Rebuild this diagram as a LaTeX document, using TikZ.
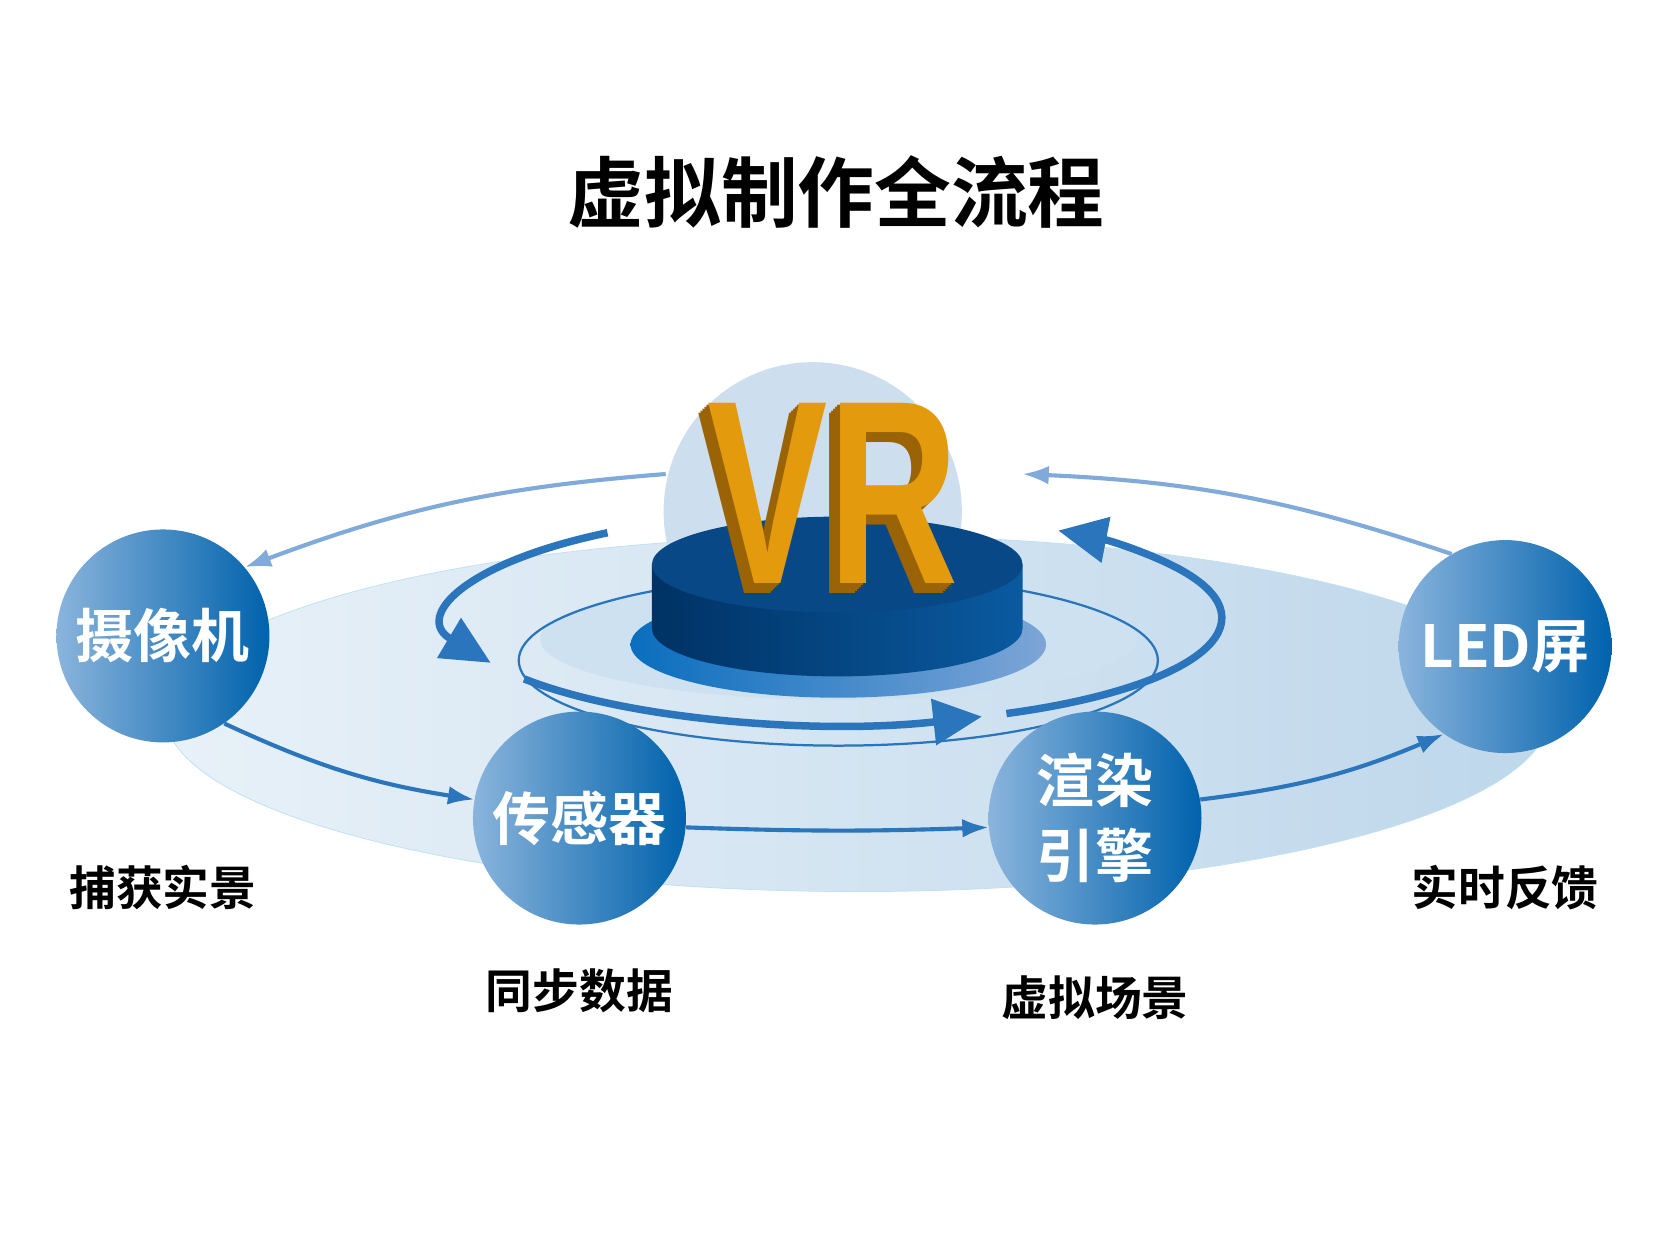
\documentclass[tikz,border=0pt]{standalone}
\usepackage{fontspec}
\newfontfamily\cjk[BoldFont={Noto Sans CJK SC Bold}]{Noto Sans CJK SC}
\setmainfont{Liberation Sans}
\usetikzlibrary{arrows.meta}
\definecolor{arr}{HTML}{2A75BB}
\definecolor{arrl}{HTML}{7FAADA}
\definecolor{vrf}{HTML}{E39A0C}
\definecolor{vrs}{HTML}{9A6406}
\definecolor{bl}{HTML}{8AB4DC}\definecolor{bd}{HTML}{0062AC}
\definecolor{discl}{HTML}{E8F1F8}\definecolor{discr}{HTML}{BED7EB}\definecolor{disce}{HTML}{BEE1F0}
\definecolor{sph}{HTML}{CDDEEE}\definecolor{inn}{HTML}{CDE1F0}
\definecolor{ringl}{HTML}{0A6EBE}\definecolor{ringr}{HTML}{7DA5D7}
\definecolor{cyl}{HTML}{003264}\definecolor{cyr}{HTML}{0A5AA0}\definecolor{cyt}{HTML}{084887}
\tikzset{
 ball/.style={circle,minimum size=4cm,inner sep=0,left color=bl,right color=bd,text=white,font=\cjk\bfseries\fontsize{31}{34}\selectfont},
 lab/.style={font=\cjk\bfseries\fontsize{25}{28}\selectfont},
 flow/.style={arr,line width=2.2,-{Latex[length=14,width=10]}},
 big/.style={arr,line width=4,-{Triangle[length=26,width=24]}},
 vrtext/.style={font=\bfseries\fontsize{112}{112}\selectfont,xscale=0.86,yscale=1.25,inner sep=0}
}
\begin{document}
\begin{tikzpicture}[x=0.02cm,y=-0.02cm]
\useasboundingbox (0,0) rectangle (1565,1174);
\node[font=\cjk\bfseries\fontsize{41}{44}\selectfont] (title) at (785,180) {虚拟制作全流程};
\shade[left color=discl,right color=discr,draw=disce] (805,670) ellipse [x radius=650,y radius=167];
\fill[sph] (763,480) circle [radius=140];
\fill[inn] (787,600) ellipse [x radius=280,y radius=57];
\draw[arr,line width=1.2] (787,620) ellipse [x radius=300,y radius=80];
\shade[left color=ringl,right color=ringr] (787,605) ellipse [x radius=195,y radius=50];
\shade[left color=cyl,right color=cyr]
 (612,530) -- (612,590) arc[start angle=180,end angle=360,x radius=174,y radius=-45] -- (960,530) -- cycle;
\fill[cyt] (786,530) ellipse [x radius=174,y radius=45];
\foreach \i in {10,8,...,2}{
 \node[vrtext,text=vrs] at ({782-\i},{463+\i}) {VR};}
\node[vrtext,text=vrf] (vr) at (782,463) {VR};
\draw[big] ([shift={(127:360 and -100)}]787,580) arc[start angle=127,end angle=205,x radius=360,y radius=-100];
\draw[big] ([shift={(215:360 and -100)}]787,580) arc[start angle=215,end angle=292,x radius=360,y radius=-100];
\draw[big] ([shift={(296:360 and -100)}]787,580) arc[start angle=296,end angle=415,x radius=360,y radius=-100];
\node[ball] (cam) at (153,597) {摄像机};
\node[ball] (sen) at (544,768) {传感器};
\node[ball,align=center,font=\cjk\bfseries\fontsize{31}{40}\selectfont] (ren) at (1028,768) {渲染\\引擎};
\node[ball] (led) at (1413,607) {LED屏};
\node[lab] (l1) at (153,833) {捕获实景};
\node[lab] (l2) at (544,930) {同步数据};
\node[lab] (l3) at (1028,937) {虚拟场景};
\node[lab] (l4) at (1413,833) {实时反馈};
\coordinate (s1) at (625,445);
\draw[flow,arrl] (s1) to[bend right=8] (cam.40);
\draw[flow] (cam.-55) to[bend right=8] (sen.170);
\draw[flow] (sen.-5) to[bend right=2] (ren.185);
\draw[flow] (ren.10) to[bend right=8] (led.-125);
\coordinate (s5) at (960,445);
\draw[flow,arrl] (led.120) to[bend right=8] (s5);
\end{tikzpicture}
\end{document}
